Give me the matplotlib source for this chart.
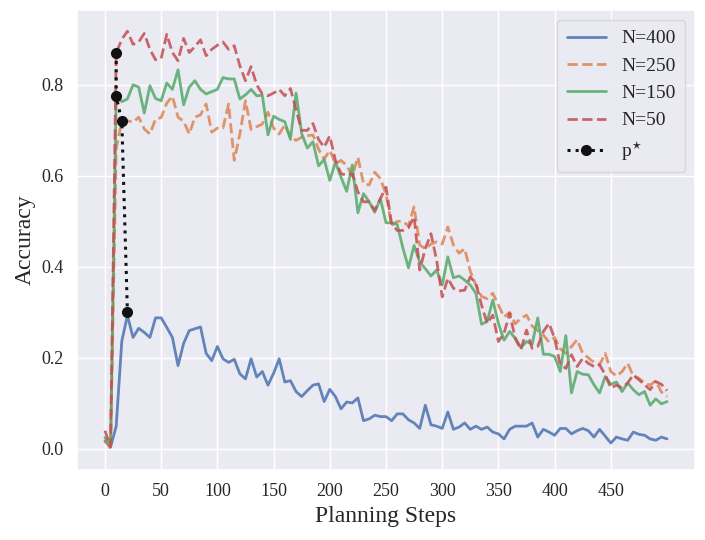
import matplotlib
matplotlib.use("Agg")
import matplotlib.pyplot as plt
import seaborn as sns

steps = list(range(0, 501, 5))

acc_400 = [0.017, 0.004, 0.05, 0.237, 0.293, 0.245, 0.265, 0.256, 0.245, 0.288,
           0.288, 0.267, 0.245, 0.183, 0.232, 0.26, 0.264, 0.268, 0.21, 0.194,
           0.225, 0.198, 0.19, 0.197, 0.165, 0.154, 0.198, 0.158, 0.17, 0.14,
           0.166, 0.198, 0.147, 0.15, 0.126, 0.115, 0.128, 0.14, 0.143, 0.104,
           0.131, 0.115, 0.088, 0.103, 0.101, 0.112, 0.062, 0.066, 0.074, 0.071,
           0.071, 0.062, 0.077, 0.077, 0.064, 0.057, 0.045, 0.096, 0.053, 0.05,
           0.045, 0.081, 0.043, 0.048, 0.057, 0.043, 0.05, 0.043, 0.048, 0.037,
           0.033, 0.022, 0.043, 0.05, 0.05, 0.05, 0.057, 0.026, 0.043, 0.037,
           0.03, 0.045, 0.045, 0.033, 0.04, 0.045, 0.04, 0.026, 0.043, 0.028,
           0.013, 0.026, 0.022, 0.019, 0.037, 0.032, 0.03, 0.022, 0.019, 0.026,
           0.022]

acc_250 = [0.02, 0.0, 0.66, 0.72, 0.721, 0.718, 0.729, 0.703, 0.692, 0.725,
           0.728, 0.76, 0.775, 0.729, 0.72, 0.692, 0.729, 0.734, 0.758, 0.696,
           0.705, 0.705, 0.758, 0.634, 0.692, 0.765, 0.702, 0.708, 0.714, 0.74,
           0.705, 0.692, 0.712, 0.685, 0.678, 0.685, 0.688, 0.69, 0.659, 0.637,
           0.656, 0.627, 0.634, 0.623, 0.60, 0.641, 0.583, 0.58, 0.608, 0.594,
           0.56, 0.491, 0.50, 0.50, 0.49, 0.532, 0.448, 0.44, 0.45, 0.455,
           0.45, 0.488, 0.448, 0.43, 0.44, 0.39, 0.36, 0.335, 0.33, 0.342,
           0.316, 0.29, 0.30, 0.275, 0.287, 0.294, 0.27, 0.26, 0.25, 0.235,
           0.245, 0.22, 0.21, 0.225, 0.24, 0.21, 0.2, 0.19, 0.185, 0.21,
           0.17, 0.16, 0.17, 0.188, 0.16, 0.155, 0.145, 0.14, 0.15, 0.125,
           0.115]

acc_150 = [0.025, 0.008, 0.776, 0.763, 0.769, 0.80, 0.795, 0.738, 0.798, 0.77,
           0.765, 0.804, 0.79, 0.833, 0.756, 0.795, 0.809, 0.79, 0.78, 0.785,
           0.79, 0.816, 0.813, 0.813, 0.769, 0.778, 0.79, 0.776, 0.777, 0.69,
           0.731, 0.724, 0.719, 0.68, 0.782, 0.693, 0.661, 0.675, 0.622, 0.636,
           0.59, 0.63, 0.597, 0.566, 0.624, 0.519, 0.561, 0.543, 0.52, 0.55,
           0.497, 0.497, 0.493, 0.442, 0.398, 0.447, 0.411, 0.396, 0.38, 0.393,
           0.36, 0.422, 0.376, 0.38, 0.371, 0.36, 0.342, 0.274, 0.28, 0.327,
           0.276, 0.239, 0.258, 0.243, 0.223, 0.236, 0.23, 0.288, 0.208, 0.208,
           0.203, 0.17, 0.249, 0.123, 0.17, 0.164, 0.163, 0.141, 0.123, 0.159,
           0.142, 0.147, 0.126, 0.145, 0.13, 0.119, 0.126, 0.096, 0.11, 0.099,
           0.104]

acc_50 = [0.04, 0.005, 0.87, 0.90, 0.918, 0.889, 0.894, 0.913, 0.878, 0.855,
          0.858, 0.911, 0.871, 0.853, 0.902, 0.871, 0.884, 0.899, 0.864, 0.878,
          0.887, 0.894, 0.878, 0.886, 0.842, 0.809, 0.84, 0.80, 0.78, 0.776,
          0.782, 0.79, 0.776, 0.792, 0.745, 0.70, 0.70, 0.715, 0.68, 0.663,
          0.688, 0.634, 0.605, 0.601, 0.605, 0.565, 0.543, 0.543, 0.524, 0.55,
          0.575, 0.495, 0.48, 0.48, 0.486, 0.51, 0.393, 0.44, 0.473, 0.415,
          0.334, 0.375, 0.353, 0.347, 0.349, 0.378, 0.364, 0.316, 0.276, 0.294,
          0.236, 0.254, 0.298, 0.243, 0.218, 0.261, 0.221, 0.225, 0.258, 0.276,
          0.243, 0.185, 0.177, 0.207, 0.181, 0.199, 0.188, 0.181, 0.185, 0.163,
          0.134, 0.14, 0.134, 0.145, 0.163, 0.152, 0.141, 0.13, 0.148, 0.142,
          0.128]

pstar_x = [10, 10, 15, 20]
pstar_y = [0.87, 0.775, 0.72, 0.30]

xtick_vals = list(range(0, 500, 50))

for s in (acc_400, acc_250, acc_150, acc_50):
    assert len(s) == len(steps), len(s)

sns.set_theme(style="darkgrid")
plt.rcParams['font.family'] = ['Liberation Serif', 'DejaVu Serif']
plt.rcParams['mathtext.fontset'] = 'stix'

fig = plt.figure(figsize=(7.05, 5.4), dpi=100)
ax = fig.add_axes([0.109, 0.13, 0.877, 0.851])

pal = sns.color_palette("deep")
lw = 2.0
ax.plot(steps, acc_400, color=pal[0], lw=lw, ls='-', alpha=0.85, label='N=400')
ax.plot(steps, acc_250, color=pal[1], lw=lw, ls='--', alpha=0.85, label='N=250')
ax.plot(steps, acc_150, color=pal[2], lw=lw, ls='-', alpha=0.85, label='N=150')
ax.plot(steps, acc_50, color=pal[3], lw=lw, ls='--', alpha=0.85, label='N=50')
ax.plot(pstar_x, pstar_y, color='#111111', ls=':', lw=2.2, marker='o', ms=7,
        label='p$^{\\star}$')

ax.set_xticks(xtick_vals)
ax.tick_params(axis='both', labelsize=13)
ax.set_xlabel('Planning Steps', fontsize=17)
ax.set_ylabel('Accuracy', fontsize=17)

leg = ax.legend(loc='upper right', fontsize=14, frameon=True, borderpad=0.5)
leg.get_frame().set_facecolor('#EAEAF2')
leg.get_frame().set_edgecolor('#d5d5d5')
leg.get_frame().set_alpha(0.9)

fig.savefig('out.png', dpi=100)
